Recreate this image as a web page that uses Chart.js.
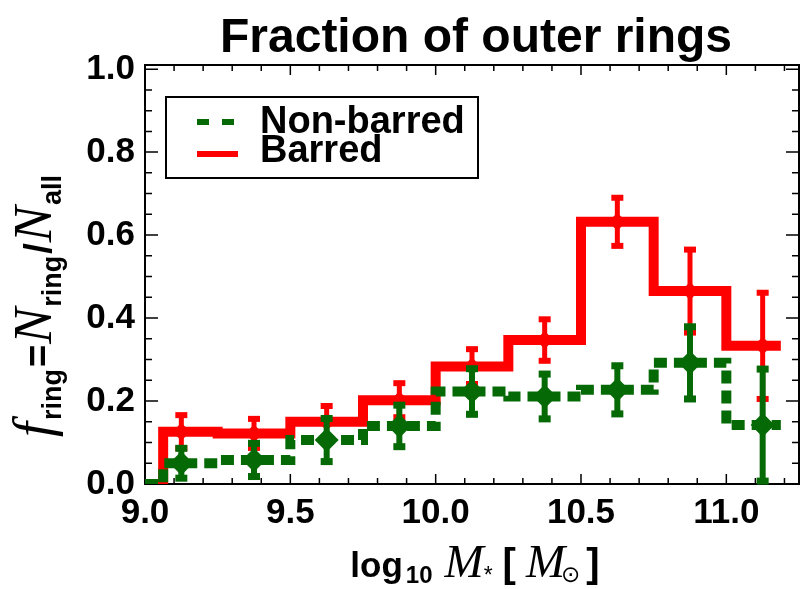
<!DOCTYPE html>
<html>
<head>
<meta charset="utf-8">
<script src="https://cdn.jsdelivr.net/npm/chart.js@4.4.0/dist/chart.umd.min.js"></script>
<style>
  html, body { margin: 0; padding: 0; background: #fff; }
  #wrap { width: 808px; height: 589px; }
</style>
</head>
<body>
<div id="wrap"><canvas id="ringChart" width="808" height="589"></canvas></div>
<script>
// bin centres, log10 stellar mass
const massBins = [9.125, 9.375, 9.625, 9.875, 10.125, 10.375, 10.625, 10.875, 11.125];
const histStart = 9.0;     // histogram sits at zero here
const histEnd = 11.1875;   // right end of the last step

const barredFrac = [0.126, 0.122, 0.150, 0.202, 0.283, 0.347, 0.632, 0.465, 0.333];
const barredErr = [0.040, 0.035, 0.038, 0.041, 0.042, 0.050, 0.058, 0.100, 0.128];
const nonBarredFrac = [0.050, 0.058, 0.106, 0.140, 0.223, 0.211, 0.227, 0.292, 0.142];
const nonBarredErr = [0.036, 0.040, 0.052, 0.050, 0.055, 0.054, 0.058, 0.087, 0.135];

const xTickLabels = [9.0, 9.5, 10.0, 10.5, 11.0];
const yTickLabels = [0.0, 0.2, 0.4, 0.6, 0.8, 1.0];

const RED = '#ff0000';
const GREEN = '#056a05';
const SANS = '"Liberation Sans", Arial, Helvetica, sans-serif';
const SERIF = '"Liberation Serif", "Times New Roman", serif';

function histPoints(frac, err) {
    const pts = [{ x: histStart, y: 0, err: null }];
    massBins.forEach((m, i) => pts.push({ x: m, y: frac[i], err: err[i] }));
    pts.push({ x: histEnd, y: frac[frac.length - 1], err: null });
    return pts;
}

// mixed-font text run: [{t, f, dy, gap}]
function drawRich(ctx, parts, cx, cy) {
    let total = 0;
    parts.forEach(p => { ctx.font = p.f; total += (p.gap || 0) + ctx.measureText(p.t).width; });
    let x = cx - total / 2;
    ctx.textAlign = 'left';
    ctx.textBaseline = 'alphabetic';
    parts.forEach(p => {
        x += p.gap || 0;
        ctx.font = p.f;
        ctx.fillText(p.t, x, cy + (p.dy || 0));
        x += ctx.measureText(p.t).width;
    });
}

const errorBars = {
    id: 'errorBars',
    beforeDatasetDraw(chart, args) {
        const ds = chart.data.datasets[args.index];
        const { ctx, scales: { x, y } } = chart;
        const eb = ds.errorBar;
        ctx.save();
        ctx.fillStyle = ds.borderColor;
        ds.data.forEach(p => {
            if (p.err == null) return;
            const px = x.getPixelForValue(p.x);
            const top = y.getPixelForValue(p.y + p.err);
            const bot = y.getPixelForValue(Math.max(0, p.y - p.err));
            ctx.fillRect(px - eb.width / 2, top, eb.width, bot - top);
            ctx.fillRect(px - eb.cap / 2, top - eb.capH / 2, eb.cap, eb.capH);
            ctx.fillRect(px - eb.cap / 2, bot - eb.capH / 2, eb.cap, eb.capH);
        });
        ctx.restore();
    }
};

// box frame with inward ticks on all four sides
const frame = {
    id: 'frame',
    beforeDatasetsDraw(chart) {
        const { ctx, chartArea: a, scales: { x, y } } = chart;
        ctx.save();
        ctx.strokeStyle = '#000';
        ctx.lineWidth = 1.5;
        ctx.beginPath();
        for (let i = 0; i <= 22; i++) {
            const px = x.getPixelForValue(9.0 + i * 0.1);
            const len = i % 5 === 0 ? 10 : 6;
            ctx.moveTo(px, a.bottom); ctx.lineTo(px, a.bottom - len);
            ctx.moveTo(px, a.top); ctx.lineTo(px, a.top + len);
        }
        for (let i = 0; i <= 20; i++) {
            const py = y.getPixelForValue(i * 0.05);
            const len = i % 4 === 0 ? 13 : 7;
            ctx.moveTo(a.left, py); ctx.lineTo(a.left + len, py);
            ctx.moveTo(a.right, py); ctx.lineTo(a.right - len, py);
        }
        ctx.stroke();
        ctx.lineWidth = 2;
        ctx.strokeRect(a.left, a.top, a.right - a.left, a.bottom - a.top);
        ctx.restore();
    }
};

const titles = {
    id: 'titles',
    afterDraw(chart) {
        const { ctx, chartArea: a } = chart;
        ctx.save();
        ctx.fillStyle = '#000';

        ctx.font = `bold 48px ${SANS}`;
        ctx.textAlign = 'center';
        ctx.textBaseline = 'alphabetic';
        ctx.fillText('Fraction of outer rings', 476, 52);

        drawRich(ctx, [
            { t: 'log', f: `bold 35px ${SANS}` },
            { t: '10', f: `bold 24px ${SANS}`, dy: 6, gap: 3 },
            { t: 'M', f: `italic 47px ${SERIF}`, gap: 12 },
            { t: '*', f: `23px ${SANS}`, dy: 6, gap: 0 },
            { t: '[', f: `bold 40px ${SANS}`, gap: 10 },
            { t: 'M', f: `italic 47px ${SERIF}`, gap: 10 },
            { t: '\u2299', f: `23px "DejaVu Sans", sans-serif`, dy: 5, gap: -4 },
            { t: ']', f: `bold 40px ${SANS}`, gap: 6 }
        ], 475, 577);

        ctx.translate(51, 306);
        ctx.rotate(-Math.PI / 2);
        drawRich(ctx, [
            { t: 'f', f: `italic 54px ${SERIF}` },
            { t: 'ring', f: `bold 27px ${SANS}`, dy: 10, gap: 2 },
            { t: '=', f: `bold 38px ${SANS}`, gap: 2 },
            { t: 'N', f: `italic 54px ${SERIF}`, gap: 1 },
            { t: 'ring', f: `bold 27px ${SANS}`, dy: 10, gap: 1 },
            { t: '/', f: `bold 38px ${SANS}`, gap: 2 },
            { t: 'N', f: `italic 54px ${SERIF}`, gap: 1 },
            { t: 'all', f: `bold 27px ${SANS}`, dy: 10, gap: 1 }
        ], 0, 0);
        ctx.restore();

        // legend box
        ctx.save();
        const lx = a.left + 21, ly = a.top + 32;
        ctx.fillStyle = '#fff';
        ctx.fillRect(lx, ly, 312, 81);
        ctx.strokeStyle = '#000';
        ctx.lineWidth = 2;
        ctx.strokeRect(lx, ly, 312, 81);
        ctx.lineWidth = 6;
        ctx.strokeStyle = GREEN;
        ctx.setLineDash([12, 13]);
        ctx.beginPath(); ctx.moveTo(lx + 31, ly + 25); ctx.lineTo(lx + 68, ly + 25); ctx.stroke();
        ctx.setLineDash([]);
        ctx.strokeStyle = RED;
        ctx.beginPath(); ctx.moveTo(lx + 31, ly + 57); ctx.lineTo(lx + 72, ly + 57); ctx.stroke();
        ctx.fillStyle = '#000';
        ctx.font = `bold 38px ${SANS}`;
        ctx.textAlign = 'left';
        ctx.textBaseline = 'alphabetic';
        ctx.fillText('Non-barred', lx + 94, ly + 36);
        ctx.fillText('Barred', lx + 94, ly + 65);
        ctx.restore();
    }
};

const tickFont = { family: SANS, size: 35, weight: 'bold' };

new Chart(document.getElementById('ringChart'), {
    type: 'line',
    data: {
        datasets: [
            {
                label: 'Non-barred',
                data: histPoints(nonBarredFrac, nonBarredErr),
                borderColor: GREEN,
                backgroundColor: GREEN,
                borderWidth: 10,
                borderDash: [13, 7],
                borderJoinStyle: 'miter',
                borderCapStyle: 'butt',
                stepped: 'middle',
                pointStyle: 'rectRot',
                pointRadius: c => c.raw && c.raw.err != null ? 12 : 0,
                pointBorderWidth: 0,
                pointBackgroundColor: GREEN,
                errorBar: { width: 6, cap: 12, capH: 7 }
            },
            {
                label: 'Barred',
                data: histPoints(barredFrac, barredErr),
                borderColor: RED,
                backgroundColor: RED,
                borderWidth: 10,
                borderJoinStyle: 'miter',
                borderCapStyle: 'butt',
                stepped: 'middle',
                pointStyle: 'rectRot',
                pointRadius: c => c.raw && c.raw.err != null ? 9 : 0,
                pointBorderWidth: 0,
                pointBackgroundColor: RED,
                errorBar: { width: 5, cap: 12, capH: 6 }
            }
        ]
    },
    plugins: [frame, errorBars, titles],
    options: {
        responsive: false,
        animation: false,
        devicePixelRatio: 1,
        parsing: { xAxisKey: 'x', yAxisKey: 'y' },
        layout: { padding: { top: 65, right: 9, left: 0, bottom: 0 } },
        plugins: { legend: { display: false }, title: { display: false }, tooltip: { enabled: false } },
        scales: {
            x: {
                type: 'linear', min: 9.0, max: 11.25,
                grid: { display: false }, border: { display: false },
                afterBuildTicks: s => { s.ticks = xTickLabels.map(v => ({ value: v })); },
                afterFit: s => { s.height = 105; },
                ticks: { color: '#000', font: tickFont, padding: 0, maxRotation: 0, autoSkip: false, callback: v => Number(v).toFixed(1) }
            },
            y: {
                type: 'linear', min: 0, max: 1.01,
                grid: { display: false }, border: { display: false },
                afterBuildTicks: s => { s.ticks = yTickLabels.map(v => ({ value: v })); },
                afterFit: s => { s.width = 145; },
                ticks: { color: '#000', font: tickFont, padding: 2, autoSkip: false, callback: v => Number(v).toFixed(1) }
            }
        }
    }
});
</script>
</body>
</html>
